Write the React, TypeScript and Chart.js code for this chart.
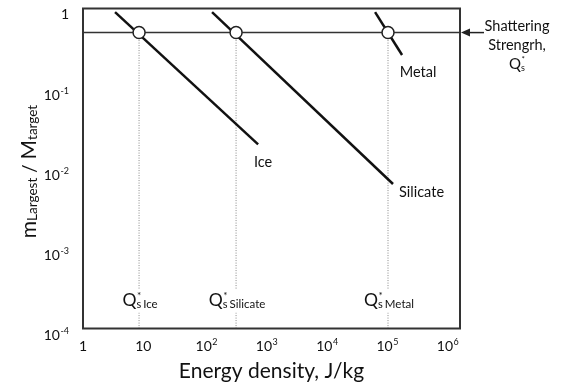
import React, { useEffect, useRef } from "react";
import { Chart, registerables } from "chart.js";

Chart.register(...registerables);

// ---- data ----
const energyMin = 1;
const energyMax = 1.78e6;
const massMin = 1e-4;
const massMax = 1;

const materialNames = ["Ice", "Silicate", "Metal"];
const iceEnergy = [3.4, 800];
const iceMass = [0.9, 0.02];
const silicateEnergy = [138, 1.38e5];
const silicateMass = [0.9, 0.0064];
const metalEnergy = [6.96e4, 1.95e5];
const metalMass = [0.9, 0.262];

const shatteringLevel = 0.5;
const qStarEnergy = [8.5, 345, 1.14e5];
const qStarNames = ["Ice", "Silicate", "Metal"];

const xTickValues = [1, 10, 100, 1e3, 1e4, 1e5, 1e6];
const yTickValues = [1, 1e-1, 1e-2, 1e-3, 1e-4];

const xTitle = "Energy density, J/kg";
const shatterText = ["Shattering", "Strengrh,"];

const FONT = "Lato, 'Open Sans', 'DejaVu Sans', sans-serif";
const TEXT = "#111";

function f(size: number) {
  return `${size}px ${FONT}`;
}

function zip(xs: number[], ys: number[]) {
  return xs.map((x, i) => ({ x, y: ys[i] }));
}

const decorPlugin = {
  id: "decor",
  afterDraw(chart: any) {
    const ctx: CanvasRenderingContext2D = chart.ctx;
    const area = chart.chartArea;
    const xs = chart.scales.x;
    const ys = chart.scales.y;
    ctx.save();

    // box
    ctx.strokeStyle = "#333";
    ctx.lineWidth = 2;
    ctx.strokeRect(area.left, area.top, area.right - area.left, area.bottom - area.top);

    // arrow pointing at shattering level
    const sy = ys.getPixelForValue(shatteringLevel);
    ctx.strokeStyle = "#222";
    ctx.lineWidth = 1.5;
    ctx.beginPath();
    ctx.moveTo(area.right + 24, sy);
    ctx.lineTo(area.right + 6, sy);
    ctx.stroke();
    ctx.fillStyle = "#222";
    ctx.beginPath();
    ctx.moveTo(area.right + 1, sy);
    ctx.lineTo(area.right + 10, sy - 4);
    ctx.lineTo(area.right + 10, sy + 4);
    ctx.closePath();
    ctx.fill();

    ctx.fillStyle = TEXT;
    ctx.textBaseline = "alphabetic";

    // x tick labels
    for (const t of xs.ticks) {
      const px = xs.getPixelForValue(t.value);
      const e = Math.round(Math.log10(t.value));
      const by = area.bottom + 22;
      ctx.font = f(14);
      ctx.textAlign = "center";
      if (e === 0) {
        ctx.fillText("1", px, by);
      } else if (e === 1) {
        ctx.fillText("10", px, by);
      } else {
        ctx.fillText("10", px, by);
        const bw = ctx.measureText("10").width;
        ctx.font = f(9);
        ctx.textAlign = "left";
        ctx.fillText(String(e), px + bw / 2 + 0.5, by - 6);
      }
    }

    // y tick labels
    const yRight = area.left - 14;
    for (const t of ys.ticks) {
      const py = ys.getPixelForValue(t.value);
      const e = Math.round(Math.log10(t.value));
      const by = py + 11.5;
      if (e === 0) {
        ctx.font = f(14);
        ctx.textAlign = "right";
        ctx.fillText("1", yRight, by - 1.5);
      } else {
        ctx.font = f(14);
        const bw = ctx.measureText("10").width;
        ctx.font = f(9);
        const ew = ctx.measureText(String(e)).width;
        ctx.font = f(14);
        ctx.textAlign = "left";
        ctx.fillText("10", yRight - bw - ew - 0.5, by);
        ctx.font = f(9);
        ctx.fillText(String(e), yRight - ew, by - 6);
      }
    }

    // x title
    ctx.font = f(21);
    ctx.textAlign = "center";
    ctx.fillText(xTitle, (area.left + area.right) / 2, 378);

    // y title (rotated) m_Largest / M_target
    ctx.save();
    ctx.translate(36, (area.top + area.bottom) / 2 + 3);
    ctx.rotate(-Math.PI / 2);
    const segs = [
      { t: "m", s: 21, dy: 0 },
      { t: "Largest", s: 13.5, dy: 1 },
      { t: " / ", s: 19, dy: 0 },
      { t: "M", s: 21, dy: 0 },
      { t: "target", s: 13.5, dy: 1 },
    ];
    let tw = 0;
    for (const sg of segs) {
      ctx.font = f(sg.s);
      tw += ctx.measureText(sg.t).width;
    }
    let cx = -tw / 2;
    ctx.textAlign = "left";
    for (const sg of segs) {
      ctx.font = f(sg.s);
      ctx.fillText(sg.t, cx, sg.dy);
      cx += ctx.measureText(sg.t).width;
    }
    ctx.restore();

    // material labels, anchored to line end points
    const ends = [
      { x: iceEnergy[1], y: iceMass[1], dx: 5, dy: 23, align: "center" },
      { x: silicateEnergy[1], y: silicateMass[1], dx: 6, dy: 13, align: "left" },
      { x: metalEnergy[1], y: metalMass[1], dx: 16, dy: 22, align: "center" },
    ];
    ctx.font = f(14.5);
    ends.forEach((p, i) => {
      const px = xs.getPixelForValue(p.x);
      const py = ys.getPixelForValue(p.y);
      ctx.textAlign = p.align as CanvasTextAlign;
      ctx.fillText(materialNames[i], px + p.dx, py + p.dy);
    });

    // Q* labels on dotted lines
    qStarEnergy.forEach((q, i) => {
      const px = xs.getPixelForValue(q);
      const base = area.bottom - 23;
      ctx.font = f(17.5);
      const wQ = ctx.measureText("Q").width;
      ctx.font = f(11);
      const wS = ctx.measureText("s").width;
      ctx.font = f(11.5);
      const wN = ctx.measureText(qStarNames[i]).width;
      const total = wQ + wS + 2 + wN;
      const x0 = px - total / 2 + 1;
      ctx.fillStyle = "#fff";
      ctx.fillRect(x0 - 2, base - 16, total + 4, 23);
      ctx.fillStyle = TEXT;
      ctx.textAlign = "left";
      ctx.font = f(17.5);
      ctx.fillText("Q", x0, base);
      ctx.font = f(11);
      ctx.fillText("s", x0 + wQ, base + 2);
      ctx.font = f(10);
      ctx.fillText("*", x0 + wQ + 0.5, base - 7);
      ctx.font = f(11.5);
      ctx.fillText(qStarNames[i], x0 + wQ + wS + 2, base + 2);
    });

    // shattering strength label
    const lx = area.right + 57;
    ctx.font = f(14.5);
    ctx.textAlign = "center";
    ctx.fillText(shatterText[0], lx, 31);
    ctx.fillText(shatterText[1], lx, 50);
    ctx.font = f(15);
    const wQ2 = ctx.measureText("Q").width;
    ctx.font = f(9);
    const wS2 = ctx.measureText("s").width;
    const q0 = lx - (wQ2 + wS2) / 2;
    ctx.textAlign = "left";
    ctx.font = f(15);
    ctx.fillText("Q", q0, 69);
    ctx.font = f(9);
    ctx.fillText("s", q0 + wQ2, 71);
    ctx.font = f(8);
    ctx.fillText("*", q0 + wQ2 + 0.5, 62);

    ctx.restore();
  },
};

export default function App() {
  const ref = useRef<HTMLCanvasElement | null>(null);

  useEffect(() => {
    if (!ref.current) return;
    const lineStyle = {
      showLine: true,
      borderColor: "#111",
      borderWidth: 2.5,
      pointRadius: 0,
      fill: false,
    };
    const datasets: any[] = [
      {
        data: qStarEnergy.map((e) => ({ x: e, y: shatteringLevel })),
        showLine: false,
        pointRadius: 6,
        pointBackgroundColor: "#fff",
        pointBorderColor: "#222",
        pointBorderWidth: 1.5,
      },
      { ...lineStyle, data: zip(iceEnergy, iceMass) },
      { ...lineStyle, data: zip(silicateEnergy, silicateMass) },
      { ...lineStyle, data: zip(metalEnergy, metalMass) },
      {
        showLine: true,
        data: [
          { x: energyMin, y: shatteringLevel },
          { x: energyMax, y: shatteringLevel },
        ],
        borderColor: "#333",
        borderWidth: 1.5,
        pointRadius: 0,
      },
      ...qStarEnergy.map((q) => ({
        showLine: true,
        data: [
          { x: q, y: shatteringLevel },
          { x: q, y: massMin },
        ],
        borderColor: "#888",
        borderWidth: 1,
        borderDash: [1, 1.5],
        pointRadius: 0,
      })),
    ];

    const chart = new Chart(ref.current, {
      type: "scatter",
      data: { datasets },
      plugins: [decorPlugin],
      options: {
        responsive: false,
        animation: false,
        events: [],
        layout: { padding: { top: 8.5, right: 103, left: 0, bottom: 0 } },
        plugins: { legend: { display: false }, tooltip: { enabled: false } },
        scales: {
          x: {
            type: "logarithmic",
            min: energyMin,
            max: energyMax,
            grid: { display: false },
            border: { display: false },
            ticks: { display: false },
            afterBuildTicks: (s: any) => {
              s.ticks = xTickValues.map((v) => ({ value: v }));
            },
            afterFit: (s: any) => {
              s.height = 61.5;
            },
          },
          y: {
            type: "logarithmic",
            min: massMin,
            max: massMax,
            grid: { display: false },
            border: { display: false },
            ticks: { display: false },
            afterBuildTicks: (s: any) => {
              s.ticks = yTickValues.map((v) => ({ value: v }));
            },
            afterFit: (s: any) => {
              s.width = 83;
            },
          },
        },
      } as any,
    });
    return () => chart.destroy();
  }, []);

  return (
    <div style={{ position: "absolute", left: 0, top: 0, width: 563, height: 390, background: "#fff" }}>
      <canvas ref={ref} width={563} height={390} style={{ width: 563, height: 390 }} />
    </div>
  );
}
